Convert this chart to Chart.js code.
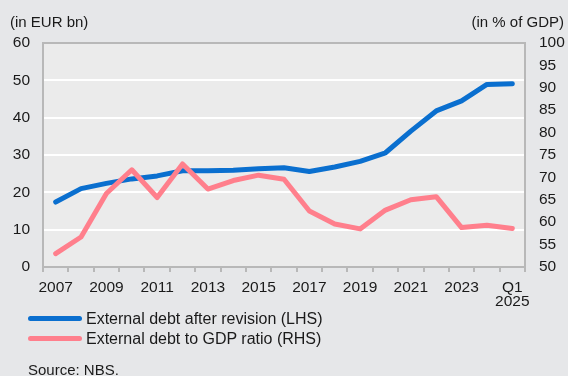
<!DOCTYPE html>
<html>
<head>
<meta charset="utf-8">
<script src="https://cdn.jsdelivr.net/npm/chart.js@4.4.1/dist/chart.umd.min.js"></script>
<style>
  html, body { margin: 0; padding: 0; background: #e6e7e9; }
  #wrap { position: relative; width: 568px; height: 376px; overflow: hidden;
          font-family: "Liberation Sans", Arial, sans-serif; font-size: 15px; color: #1a1a1a; }
  #chartBox { position: absolute; left: 0; top: 0; width: 568px; height: 320px; }
  .lbl { position: absolute; white-space: nowrap; line-height: 18px; }
  .leg { position: absolute; left: 28px; white-space: nowrap; line-height: 18px; font-size: 16px; }
  .leg span { display: inline-block; width: 54px; height: 5px; border-radius: 3px;
              vertical-align: middle; margin-right: 4px; position: relative; top: -1px; }
</style>
</head>
<body>
<div id="wrap">
  <div id="chartBox"><canvas id="debtChart"></canvas></div>
  <div class="lbl" style="left:10px; top:13px;">(in EUR bn)</div>
  <div class="lbl" style="right:4px; top:13px;">(in % of GDP)</div>
  <div id="legend"></div>
  <div class="lbl" style="left:28px; top:361px;">Source: NBS.</div>
</div>
<script>
(function () {
  "use strict";

  const categories = ["2007", "2008", "2009", "2010", "2011", "2012", "2013", "2014", "2015",
    "2016", "2017", "2018", "2019", "2020", "2021", "2022", "2023", "2024", ["Q1", "2025"]];

  // external debt after revision, EUR bn (LHS)
  const debtEur = [17.4, 21.0, 22.4, 23.6, 24.4, 25.8, 25.8, 25.9, 26.3, 26.6,
    25.6, 26.8, 28.3, 30.6, 36.4, 41.8, 44.5, 48.9, 49.1];

  // external debt to GDP ratio, % (RHS)
  const debtGdp = [53.0, 56.7, 66.4, 71.7, 65.5, 73.0, 67.4, 69.3, 70.5, 69.6,
    62.5, 59.6, 58.5, 62.7, 65.0, 65.7, 58.8, 59.3, 58.6];

  const leftTicks = [0, 10, 20, 30, 40, 50, 60];
  const rightTicks = [50, 55, 60, 65, 70, 75, 80, 85, 90, 95, 100];

  const seriesNames = ["External debt after revision (LHS)", "External debt to GDP ratio (RHS)"];
  const seriesColors = ["#0a6fcf", "#ff7f8c"];

  const FONT = { family: "'Liberation Sans', Arial, sans-serif", size: 15.5 };
  const AXIS_GRAY = "#b8b8b8";

  // legend as html
  const leg = document.getElementById("legend");
  seriesNames.forEach(function (name, i) {
    const d = document.createElement("div");
    d.className = "leg";
    d.style.top = (310 + i * 20) + "px";
    d.innerHTML = '<span style="background:' + seriesColors[i] + '"></span>' + name;
    leg.appendChild(d);
  });

  // plot area fill + top border
  const plotArea = {
    id: "plotArea",
    beforeDraw(chart) {
      const a = chart.chartArea, ctx = chart.ctx;
      ctx.save();
      ctx.fillStyle = "#ebebeb";
      ctx.fillRect(a.left, a.top, a.right - a.left, a.bottom - a.top);
      ctx.restore();
    },
    beforeDatasetsDraw(chart) {
      const a = chart.chartArea, ctx = chart.ctx;
      ctx.save();
      ctx.strokeStyle = AXIS_GRAY;
      ctx.lineWidth = 2;
      ctx.beginPath();
      ctx.moveTo(a.left, a.top);
      ctx.lineTo(a.right, a.top);
      ctx.stroke();
      ctx.restore();
    }
  };

  new Chart(document.getElementById("debtChart"), {
    type: "line",
    data: {
      labels: categories,
      datasets: [
        {
          label: seriesNames[0],
          data: debtEur,
          yAxisID: "y",
          borderColor: seriesColors[0],
          borderWidth: 5,
          pointRadius: 0,
          tension: 0,
          borderCapStyle: "round",
          borderJoinStyle: "round",
          order: 1
        },
        {
          label: seriesNames[1],
          data: debtGdp,
          yAxisID: "y2",
          borderColor: seriesColors[1],
          borderWidth: 5,
          pointRadius: 0,
          tension: 0,
          borderCapStyle: "round",
          borderJoinStyle: "round",
          order: 0
        }
      ]
    },
    options: {
      responsive: true,
      maintainAspectRatio: false,
      animation: false,
      events: [],
      layout: { padding: { top: 43, left: 0, right: 0, bottom: 0 } },
      plugins: { legend: { display: false }, tooltip: { enabled: false } },
      scales: {
        x: {
          offset: true,
          grid: { offset: true, drawOnChartArea: false, drawTicks: true, tickLength: 5, color: AXIS_GRAY, lineWidth: 2 },
          border: { color: AXIS_GRAY, width: 2 },
          ticks: {
            autoSkip: false, maxRotation: 0, padding: 8, color: "#1a1a1a",
            font: { family: FONT.family, size: 15.5, lineHeight: 0.95 },
            callback: function (v, i) { return i % 2 === 0 ? categories[i] : ""; }
          },
          afterFit(s) { s.height = 53; }
        },
        y: {
          position: "left",
          min: 0, max: 60,
          afterBuildTicks(s) { s.ticks = leftTicks.map(v => ({ value: v })); },
          grid: {
            drawTicks: false, lineWidth: 2,
            color: ctx => (ctx.tick && (ctx.tick.value === 0 || ctx.tick.value === 60)) ? "rgba(0,0,0,0)" : "#ffffff"
          },
          border: { color: AXIS_GRAY, width: 2 },
          ticks: { padding: 13, color: "#1a1a1a", font: FONT },
          afterFit(s) { s.width = 43; }
        },
        y2: {
          position: "right",
          min: 50, max: 100,
          afterBuildTicks(s) { s.ticks = rightTicks.map(v => ({ value: v })); },
          grid: { drawOnChartArea: false, drawTicks: false },
          border: { color: AXIS_GRAY, width: 2 },
          ticks: { padding: 14, color: "#1a1a1a", font: FONT },
          afterFit(s) { s.width = 43; }
        }
      }
    },
    plugins: [plotArea]
  });
})();
</script>
</body>
</html>
